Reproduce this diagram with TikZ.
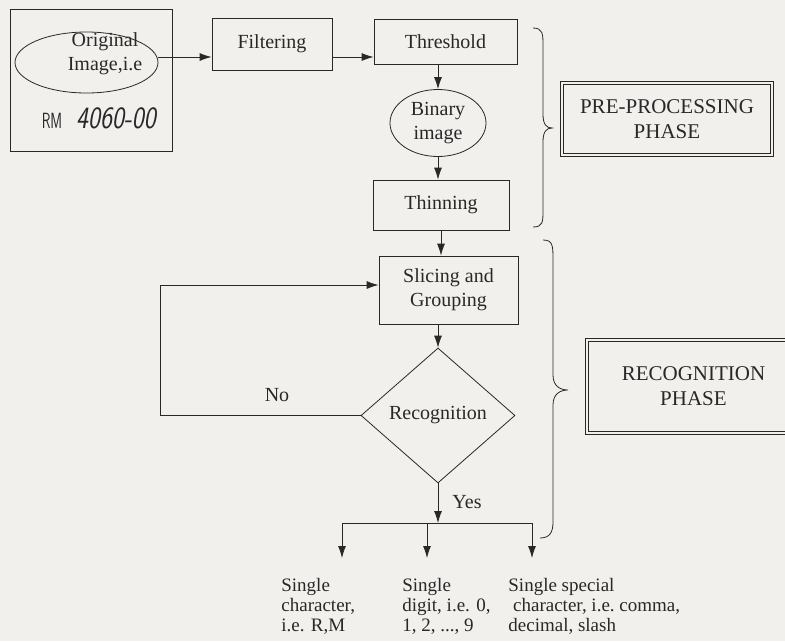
\documentclass[tikz,border=0pt]{standalone}
\usepackage{fontspec}
\setmainfont{Liberation Serif}
\usetikzlibrary{shapes.geometric,arrows.meta}
\definecolor{ink}{RGB}{40,40,40}
\definecolor{paper}{RGB}{241,240,237}
\tikzset{every picture/.style={line width=0.8pt}}
\tikzset{
  stepbox/.style={draw=ink,rectangle,inner sep=0pt,align=center},
  ovalbox/.style={draw=ink,ellipse,inner sep=0pt,align=center},
  phasebox/.style={draw=ink,double=paper,double distance=2.2pt,line width=0.9pt,inner sep=0pt,align=center,font=\fontsize{21}{25}\selectfont},
  arr/.style={draw=ink,-{Latex[length=12pt,width=8pt]}},
  outtxt/.style={anchor=north west,inner sep=0pt,align=left,font=\fontsize{19}{20}\selectfont},
}

\begin{document}
\begin{tikzpicture}[x=1pt,y=1pt,yscale=-1,xscale=1,text=ink,font=\fontsize{20}{24}\selectfont]
            \fill[paper] (0,0) rectangle (785,641);
            \useasboundingbox (0,0) rectangle (785,641);
            \clip (0,0) rectangle (785,641);
            \node[stepbox,minimum width=162pt,minimum height=142pt] (origframe) at (91,80) {};
            \node[ovalbox,minimum width=143pt,minimum height=61pt] (orig) at (86.5,62.5) {};
            \node[align=center,inner sep=0pt] (origtxt) at (105,54) {Original\\Image,i.e};
            \node[inner sep=0pt,font=\sffamily\fontsize{22}{22}\selectfont] (rm) at (52,121) {\scalebox{0.65}[1]{RM}};
            \node[inner sep=0pt,font=\sffamily\itshape\fontsize{31}{31}\selectfont] (amount) at (116,118) {\scalebox{0.82}[1]{4060-00}};
            \node[stepbox,minimum width=120pt,minimum height=52pt] (filt) at (272,44) {Filtering};
            \node[stepbox,minimum width=143pt,minimum height=45pt] (thr) at (445.5,41.5) {Threshold};
            \node[ovalbox,minimum width=96pt,minimum height=67pt] (bin) at (438,123) {Binary\\image};
            \node[stepbox,minimum width=136pt,minimum height=50pt] (thin) at (441,205) {Thinning};
            \node[stepbox,minimum width=139pt,minimum height=68pt] (slice) at (448.5,290) {Slicing and\\Grouping};
            \node[draw=ink,diamond,inner sep=0pt,aspect=1.14,minimum width=154pt,minimum height=135pt] (dia) at (438,415.5) {Recognition};
            \node[phasebox,minimum width=210pt,minimum height=72pt] (pre) at (667,119) {PRE-PROCESSING\\PHASE};
            \node[phasebox,minimum width=213pt,minimum height=93pt] (rec) at (693.5,386.5) {RECOGNITION\\PHASE};
            \coordinate (row) at (0,57);
            \coordinate (noturn) at (160,285);
            \coordinate (split) at (438,523);
            \coordinate (splitl) at (342,523);
            \coordinate (splitr) at (532,523);
            \draw[arr] (orig.east |- row) -- (filt.west |- row);
            \draw[arr] (filt.east |- row) -- (thr.west |- row);
            \draw[arr] (bin.north |- thr.south) -- (bin.north);
            \draw[arr] (bin.south) -- (bin.south |- thin.north);
            \draw[arr] (thin.south) -- (thin.south |- slice.north);
            \draw[arr] (dia.north |- slice.south) -- (dia.north);
            \draw[arr] (dia.west) -| (noturn) -- (noturn -| slice.west);
            \node[inner sep=0pt] (no) at (277,395) {No};
            \draw[arr] (dia.south) -- (split);
            \node[inner sep=0pt] (yes) at (467,502) {Yes};
            \draw[ink] (splitl) -- (splitr);
            \foreach \x [count=\i] in {342,427,532} {
              \coordinate (top\i) at (\x,523);
              \coordinate (end\i) at (\x,558);
              \draw[arr] (top\i) -- (end\i);
            }
            \node[outtxt] (out1) at (281,578) {Single\\character,\\i.e. R,M};
            \node[outtxt] (out2) at (402,578) {Single\\digit, i.e. 0,\\1, 2, ..., 9};
            \node[outtxt] (out3) at (508,578) {Single special\\\ character, i.e.~comma,\\decimal, slash};
            \draw[ink] (533,28) .. controls (543,28) and (543,34) .. (543,46) -- (543,114) .. controls (543,124) and (546,128) .. (552,128) .. controls (546,128) and (543,132) .. (543,142) -- (543,210) .. controls (543,222) and (543,227) .. (533,227);
            \draw[ink] (543,240) .. controls (553,240) and (553,246) .. (553,260) -- (553,375) .. controls (553,386) and (560,390) .. (568,390) .. controls (560,390) and (553,394) .. (553,405) -- (553,522) .. controls (553,532) and (550,538) .. (540,538);
        \end{tikzpicture}
\end{document}
